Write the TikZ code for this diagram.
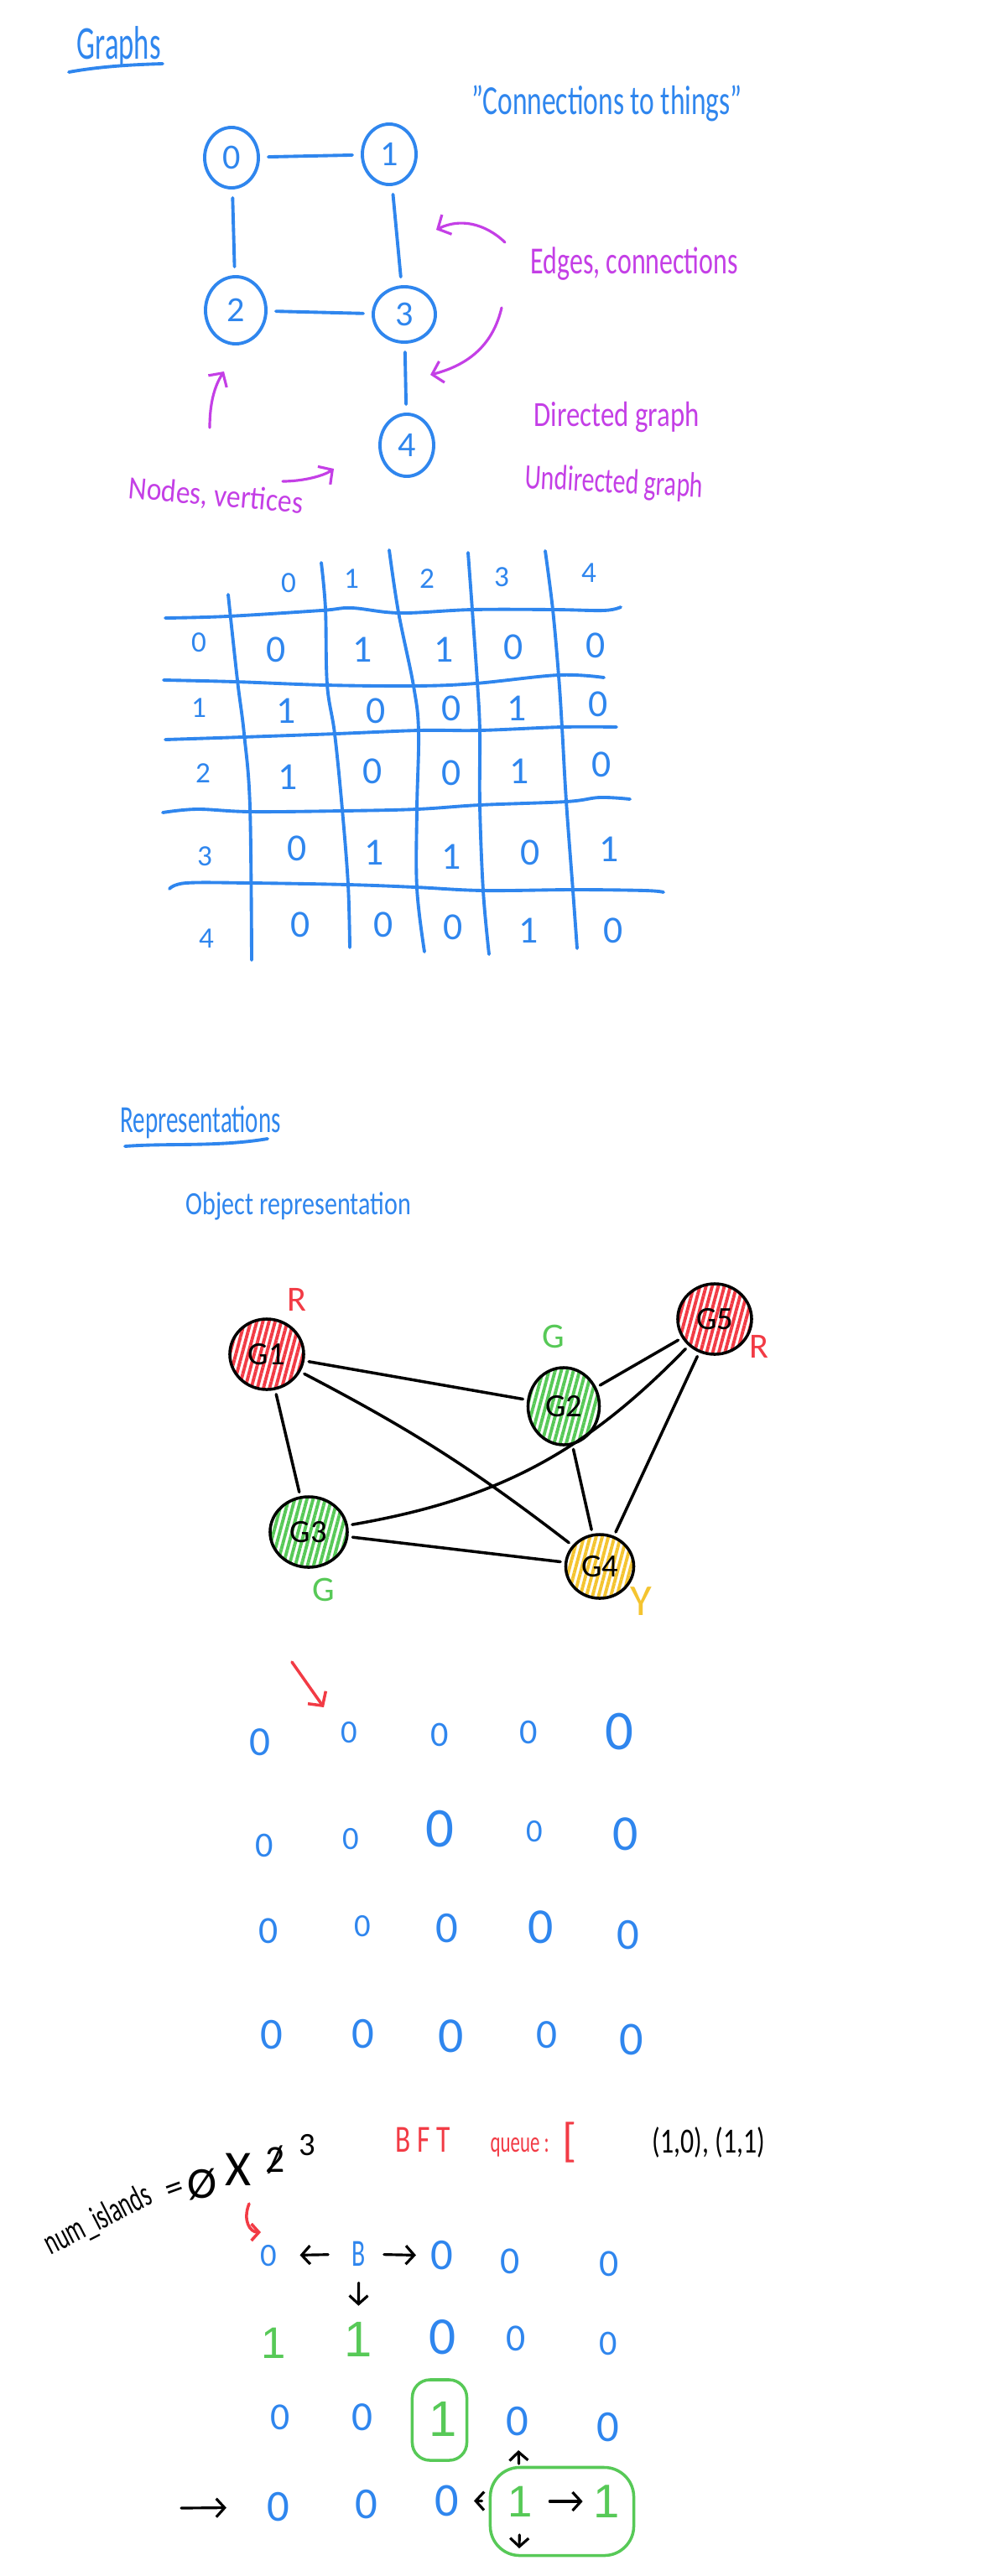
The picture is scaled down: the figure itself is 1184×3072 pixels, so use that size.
\documentclass[tikz,border=0pt]{standalone}
\usepackage{fontspec}
\setmainfont{Carlito}
\newfontfamily\strokefont{Liberation Sans}
\usepackage{graphicx}
\usetikzlibrary{arrows.meta, positioning, shapes.geometric, calc, patterns.meta}
\definecolor{penblue}{HTML}{2F86EE}
\definecolor{penmag}{HTML}{C43FE6}
\definecolor{penred}{HTML}{F23B45}
\definecolor{pengreen}{HTML}{57C957}
\definecolor{penyellow}{HTML}{F4C430}
\newcommand{\hw}[2]{\resizebox{#1}{\height}{#2}}
\newcommand{\fs}[1]{\fontsize{#1}{#1}\selectfont}
\newcommand{\struck}[1]{{\ooalign{#1\cr\hidewidth/\hidewidth\cr}}}

\begin{document}
\begin{tikzpicture}[x=0.01cm, y=-0.01cm,
    every node/.style={inner sep=0pt, text=penblue},
    pen/.style={draw=penblue, line width=1.1pt, line cap=round},
    vtx/.style={ellipse, draw=penblue, line width=1.1pt, minimum width=0.64cm, minimum height=0.72cm, font=\fs{12}},
    edg/.style={pen, shorten <=0.1cm, shorten >=0.1cm},
    anno/.style={draw=penmag, line width=0.9pt, line cap=round, -{Straight Barb[length=1.2mm,width=2.6mm]}},
    note/.style={text=penmag, font=\fs{13}, anchor=base west},
    hdr/.style={text=penblue, font=\fs{10}},
    cell/.style={text=penblue, font=\fs{13}},
    obj/.style={ellipse, draw=black, line width=1pt, minimum width=0.88cm, minimum height=0.84cm, text=black, font=\fs{11}},
    hatch/.style={pattern={Lines[angle=75,distance=2pt,line width=1.1pt]}, pattern color=#1},
    obedge/.style={draw=black, line width=1pt, line cap=round, shorten <=0.05cm, shorten >=0.05cm},
    lbl/.style={font=\fs{12}},
    zero/.style={text=penblue, font=\fs{#1}},
    one/.style={text=pengreen, font=\strokefont\fs{#1}},
    redarr/.style={draw=penred, line width=1pt, line cap=round, -{Straight Barb[length=1.2mm,width=2.6mm]}},
    arr/.style={draw=black, line width=0.9pt, line cap=round, -{Straight Barb[length=1mm,width=2.2mm]}},
    gbox/.style={draw=pengreen, line width=1pt, rounded corners=6pt}
]
\fill[white] (0,0) rectangle (1184,3072);
\useasboundingbox (0,0) rectangle (1184,3072);

% title
\node[anchor=base west, font=\fs{16}] (ttl) at (91,70) {\hw{1.0cm}{Graphs}};
\draw[pen] (82,86) .. controls (120,79) and (160,77) .. (194,76);
\node[anchor=base west, font=\fs{14}] (cnx) at (562,136) {\hw{3.22cm}{"Connections to things"}};

% small graph
\node[vtx] (n0) at (276,188) {0};
\node[vtx] (n1) at (464,184) {1};
\node[vtx, minimum width=0.72cm, minimum height=0.8cm] (n2) at (281,370) {2};
\node[vtx, minimum width=0.74cm, minimum height=0.66cm] (n3) at (482,375) {3};
\node[vtx, minimum height=0.74cm] (n4) at (485,531) {4};
\draw[edg] (n0) -- (n1);
\draw[edg] (n0) -- (n2);
\draw[edg] (n1) -- (n3);
\draw[edg] (n2) -- (n3);
\draw[edg] (n3) -- (n4);

% notes
\node[note] (edges) at (632,326) {\hw{2.47cm}{Edges, connections}};
\node[note, font=\fs{12}] (dir) at (636,508) {\hw{1.97cm}{Directed graph}};
\node[note, font=\fs{12}, rotate=-3] (undir) at (625,582) {\hw{2.12cm}{Undirected graph}};
\node[note, font=\fs{11}, rotate=-5] (verts) at (152,594) {\hw{2.08cm}{Nodes, vertices}};
\coordinate (a1s) at (602,289); \coordinate (a1e) at (520,274);
\coordinate (a2s) at (598,367); \coordinate (a2e) at (513,447);
\coordinate (a3s) at (250,510); \coordinate (a3e) at (267,443);
\coordinate (a4s) at (337,574); \coordinate (a4e) at (398,559);
\draw[anno] (a1s) .. controls (578,266) and (548,260) .. (a1e);
\draw[anno] (a2s) .. controls (588,410) and (560,435) .. (a2e);
\draw[anno] (a3s) .. controls (250,480) and (256,460) .. (a3e);
\draw[anno] (a4s) .. controls (360,574) and (385,568) .. (a4e);

% adjacency matrix
\draw[pen] plot[smooth, tension=0.6] coordinates {(272,709) (283,811) (291,875) (298,962) (300,1145)};
\draw[pen] plot[smooth, tension=0.6] coordinates {(383,671) (388,726) (390,816) (399,875) (408,965) (415,1055) (417,1130)};
\draw[pen] plot[smooth, tension=0.6] coordinates {(464,656) (475,730) (493,818) (499,872) (497,965) (497,1059) (506,1135)};
\draw[pen] plot[smooth, tension=0.6] coordinates {(558,659) (563,727) (569,813) (572,872) (572,960) (576,1062) (583,1138)};
\draw[pen] plot[smooth, tension=0.6] coordinates {(650,657) (659,727) (666,806) (670,867) (675,955) (683,1062) (688,1131)};
\draw[pen] plot[smooth, tension=0.6] coordinates {(197,737) (271,735) (383,728) (419,725) (477,731) (563,727) (661,727) (720,728) (740,724)};
\draw[pen] plot[smooth, tension=0.6] coordinates {(195,811) (280,813) (388,817) (495,818) (567,815) (666,805) (720,808)};
\draw[pen] plot[smooth, tension=0.6] coordinates {(197,882) (289,879) (401,875) (500,871) (572,871) (670,867) (735,867)};
\draw[pen] plot[smooth, tension=0.6] coordinates {(194,969) (235,965) (298,968) (408,967) (497,965) (572,960) (675,956) (715,951) (751,953)};
\draw[pen] plot[smooth, tension=0.6] coordinates {(202,1060) (222,1053) (298,1053) (415,1055) (495,1058) (576,1062) (684,1061) (769,1062) (791,1064)};
\node[hdr] (c0) at (344,695) {0}; \node[hdr] (c1) at (419,690) {1}; \node[hdr] (c2) at (509,690) {2};
\node[hdr] (c3) at (598,688) {3}; \node[hdr] (c4) at (702,683) {4};
\node[hdr] (r0) at (237,766) {0}; \node[hdr] (r1) at (237,844) {1}; \node[hdr] (r2) at (242,922) {2};
\node[hdr] (r3) at (244,1021) {3}; \node[hdr] (r4) at (246,1119) {4};
\node[cell] (m00) at (329,775) {0}; \node[cell] (m01) at (432,775) {1}; \node[cell] (m02) at (529,775) {1}; \node[cell] (m03) at (612,772) {0}; \node[cell] (m04) at (710,770) {0};
\node[cell] (m10) at (341,848) {1}; \node[cell] (m11) at (448,848) {0}; \node[cell] (m12) at (538,845) {0}; \node[cell] (m13) at (616,845) {1}; \node[cell] (m14) at (713,840) {0};
\node[cell] (m20) at (343,927) {1}; \node[cell] (m21) at (444,920) {0}; \node[cell] (m22) at (538,922) {0}; \node[cell] (m23) at (619,920) {1}; \node[cell] (m24) at (717,912) {0};
\node[cell] (m30) at (354,1012) {0}; \node[cell] (m31) at (446,1017) {1}; \node[cell] (m32) at (538,1022) {1}; \node[cell] (m33) at (632,1017) {0}; \node[cell] (m34) at (726,1013) {1};
\node[cell] (m40) at (358,1103) {0}; \node[cell] (m41) at (457,1103) {0}; \node[cell] (m42) at (540,1106) {0}; \node[cell] (m43) at (630,1110) {1}; \node[cell] (m44) at (731,1110) {0};

% representations
\node[anchor=base west, font=\fs{13}] (rep) at (143,1350) {\hw{1.91cm}{Representations}};
\draw[pen] (149,1367) .. controls (200,1363) and (260,1368) .. (319,1358);
\node[anchor=base west, font=\fs{11}] (objrep) at (221,1448) {\hw{2.68cm}{Object representation}};

% object graph
\node[obj, hatch=penred] (G1) at (318,1615) {G1};
\node[obj, hatch=pengreen, minimum width=0.85cm, minimum height=0.92cm] (G2) at (672,1677) {G2};
\node[obj, hatch=penred] (G5) at (852,1573) {G5};
\node[obj, hatch=pengreen, minimum width=0.92cm] (G3) at (368,1827) {G3};
\node[obj, hatch=penyellow, minimum width=0.81cm, minimum height=0.76cm] (G4) at (715,1868) {G4};
\draw[obedge] (G1) -- (G2);
\draw[obedge] (G1) -- (G3);
\draw[obedge] (G1) to[bend left=5] (G4);
\draw[obedge] (G2) -- (G5);
\draw[obedge] (G2) -- (G4);
\draw[obedge] (G3) to[bend right=18] (G5);
\draw[obedge] (G3) -- (G4);
\draw[obedge] (G5) -- (G4);
\node[lbl, text=penred] (lG1) at (354,1550) {R};
\node[lbl, text=pengreen] (lG2) at (660,1594) {G};
\node[lbl, text=penred] (lG5) at (905,1606) {R};
\node[lbl, text=pengreen] (lG3) at (386,1896) {G};
\node[lbl, text=penyellow, font=\fs{15}] (lG4) at (764,1910) {Y};

% grid of water
\coordinate (ra1) at (348,1982); \coordinate (ra2) at (386,2036);
\draw[redarr] (ra1) -- (ra2);
\node[zero=14] (z11) at (310,2078) {0}; \node[zero=11] (z12) at (416,2066) {0}; \node[zero=12] (z13) at (524,2069) {0}; \node[zero=12] (z14) at (630,2066) {0}; \node[zero=19] (z15) at (738,2065) {0};
\node[zero=12] (z21) at (315,2201) {0}; \node[zero=11] (z22) at (418,2193) {0}; \node[zero=19] (z23) at (524,2181) {0}; \node[zero=11] (z24) at (637,2184) {0}; \node[zero=17] (z25) at (746,2187) {0};
\node[zero=13] (z31) at (320,2303) {0}; \node[zero=11] (z32) at (432,2297) {0}; \node[zero=15] (z33) at (533,2300) {0}; \node[zero=17] (z34) at (645,2298) {0}; \node[zero=15] (z35) at (749,2308) {0};
\node[zero=15] (z41) at (324,2427) {0}; \node[zero=15] (z42) at (433,2426) {0}; \node[zero=17] (z43) at (538,2428) {0}; \node[zero=14] (z44) at (652,2427) {0}; \node[zero=16] (z45) at (753,2432) {0};

% counter and queue
\node[anchor=base west, text=black, font=\fs{12}, rotate=27] (numisl) at (60,2690) {\hw{1.38cm}{num\_islands}};
\node[text=black, font=\fs{12}, rotate=20] (eq) at (209,2613) {=};
\node[text=black, font=\fs{15}] (cnt0) at (241,2605) {Ø};
\node[text=black, font=\fs{17}] (cnt1) at (284,2587) {X};
\node[text=black, font=\fs{13}] (cnt2) at (328,2577) {\struck{2}};
\node[text=black, font=\fs{11}] (cnt3) at (366,2558) {3};
\node[text=penred, font=\fs{13}] (bft) at (504,2552) {\hw{0.65cm}{B F T}};
\node[text=penred, font=\fs{10}, anchor=base west] (que) at (584,2566) {\hw{0.7cm}{queue :}};
\node[text=penred, font=\fs{16}] (brk) at (679,2555) {[};
\node[text=black, font=\fs{12}] (qitems) at (845,2555) {\hw{1.34cm}{(1,0), (1,1)}};
\coordinate (rh1) at (297,2628); \coordinate (rh2) at (311,2662);
\draw[redarr, -{Straight Barb[length=0.9mm,width=2mm]}] (rh1) .. controls (289,2648) and (298,2662) .. (rh2);

% grid being traversed
\node[zero=11] (b00) at (320,2690) {0}; \node[zero=13] (b01) at (428,2688) {\scalebox{0.65}[1]{B}}; \node[zero=15] (b02) at (527,2690) {0}; \node[zero=13] (b03) at (608,2697) {0}; \node[zero=13] (b04) at (726,2700) {0};
\node[one=15] (b10) at (326,2794) {1}; \node[one=17] (b11) at (427,2790) {1}; \node[zero=18] (b12) at (528,2787) {0}; \node[zero=13] (b13) at (615,2789) {0}; \node[zero=12] (b14) at (725,2795) {0};
\node[zero=13] (b20) at (334,2883) {0}; \node[zero=14] (b21) at (432,2883) {0}; \node[one=17] (b22) at (528,2885) {1}; \node[zero=15] (b23) at (617,2888) {0}; \node[zero=15] (b24) at (725,2895) {0};
\node[zero=15] (b30) at (332,2990) {0}; \node[zero=15] (b31) at (437,2987) {0}; \node[zero=16] (b32) at (533,2982) {0}; \node[one=15] (b33) at (620,2983) {1}; \node[one=16] (b34) at (723,2983) {1};
\node[gbox, minimum width=0.65cm, minimum height=0.96cm] (isl1) at (524,2886) {};
\node[gbox, minimum width=1.71cm, minimum height=1.05cm, rounded corners=10pt] (isl2) at (670,2995) {};
\coordinate (rowptr) at (216,2991);
\coordinate (bdown) at (619,3039);
\draw[arr, shorten <=0.28cm, shorten >=0.27cm] (b01) -- (b00);
\draw[arr, shorten <=0.21cm, shorten >=0.17cm] (b01) -- (b02);
\draw[arr, shorten <=0.19cm, shorten >=0.19cm] (b01) -- (b11);
\draw[arr, shorten <=0.26cm, shorten >=0.16cm] (b33) -- (b23);
\draw[arr, shorten <=0.3cm, shorten >=0.17cm] (b33) -- (b32);
\draw[arr, shorten <=0.2cm, shorten >=0.12cm] (b33) -- (b34);
\draw[arr, shorten <=0.21cm] (b33) -- (bdown);
\draw[arr, shorten >=0.48cm] (rowptr) -- (b30);

\end{tikzpicture}
\end{document}
